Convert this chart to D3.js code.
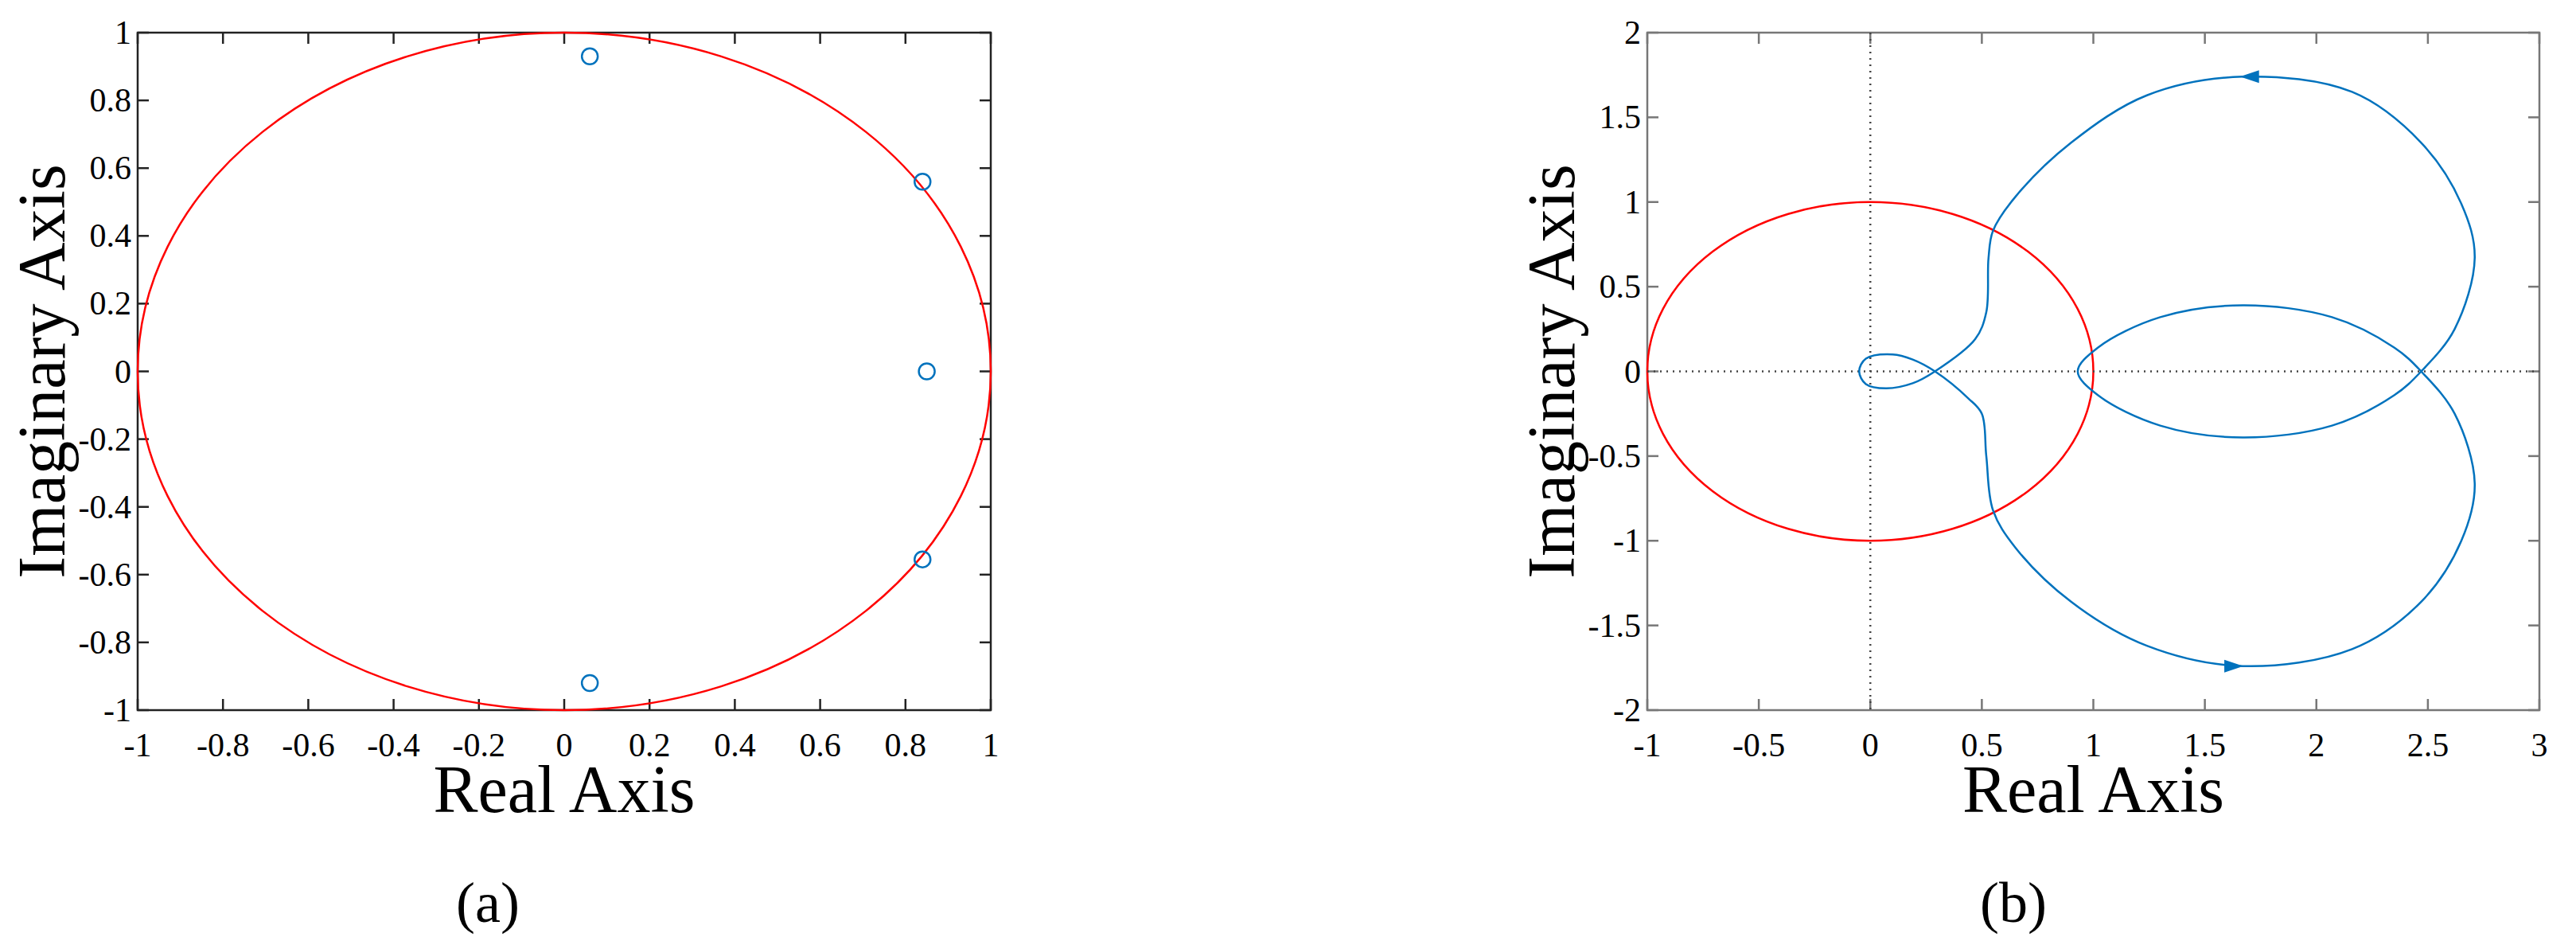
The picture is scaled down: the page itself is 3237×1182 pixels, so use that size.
<!DOCTYPE html>
<html>
<head>
<meta charset="utf-8">
<script src="https://cdn.jsdelivr.net/npm/d3@7"></script>
<style>
  body { margin: 0; background: #fff; }
  text { font-family: 'Liberation Serif', 'DejaVu Serif', serif; }
</style>
</head>
<body>
<svg width="3237" height="1182"></svg>
<script>
// panel (a): zeros inside the unit circle
var zerosRe = [0.06, 0.84, 0.85, 0.84, 0.06];
var zerosIm = [0.93, 0.56, 0.0, -0.555, -0.92];
var ticksA = [-1, -0.8, -0.6, -0.4, -0.2, 0, 0.2, 0.4, 0.6, 0.8, 1];

// panel (b): nyquist curve (closed)
var nyqRe = [0.93, 1.02, 1.30, 1.67, 2.07, 2.35, 2.47, 2.62, 2.71, 2.65, 2.47, 2.16, 1.67, 1.24, 0.90, 0.65, 0.55, 0.52, 0.50, 0.44, 0.29, 0.19, 0.10, -0.02, -0.05,
  -0.02, 0.07, 0.19, 0.29, 0.47, 0.52, 0.53, 0.55, 0.65, 0.90, 1.24, 1.67, 2.16, 2.47, 2.65, 2.71, 2.62, 2.47, 2.35, 2.07, 1.67, 1.30, 1.02];
var nyqIm = [0, 0.14, 0.32, 0.39, 0.32, 0.14, 0, -0.25, -0.66, -1.0, -1.36, -1.64, -1.74, -1.62, -1.36, -1.04, -0.82, -0.50, -0.25, -0.16, 0, 0.07, 0.10, 0.075, 0,
  -0.075, -0.10, -0.07, 0, 0.19, 0.35, 0.67, 0.83, 1.03, 1.35, 1.63, 1.74, 1.65, 1.35, 0.99, 0.67, 0.25, 0, -0.14, -0.32, -0.39, -0.32, -0.14];
var arrowRe = [1.70, 1.63];
var arrowIm = [1.74, -1.74];
var arrowDir = [-1, 1];
var ticksBx = [-1, -0.5, 0, 0.5, 1, 1.5, 2, 2.5, 3];
var ticksBy = [-2, -1.5, -1, -0.5, 0, 0.5, 1, 1.5, 2];

var svg = d3.select('svg');
var blue = '#0072bd';

function panel(o) {
  var x = d3.scaleLinear().domain(o.xd).range([o.left, o.right]);
  var y = d3.scaleLinear().domain(o.yd).range([o.bottom, o.top]);
  var g = svg.append('g');

  g.append('rect')
    .attr('x', o.left).attr('y', o.top)
    .attr('width', o.right - o.left).attr('height', o.bottom - o.top)
    .attr('fill', 'none').attr('stroke', o.axisColor).attr('stroke-width', 2.5);

  var tl = 14;
  o.xt.forEach(function(t) {
    g.append('line').attr('x1', x(t)).attr('x2', x(t)).attr('y1', o.bottom).attr('y2', o.bottom - tl).attr('stroke', o.axisColor).attr('stroke-width', 2.5);
    g.append('line').attr('x1', x(t)).attr('x2', x(t)).attr('y1', o.top).attr('y2', o.top + tl).attr('stroke', o.axisColor).attr('stroke-width', 2.5);
    g.append('text').attr('x', x(t)).attr('y', o.bottom + 58).attr('text-anchor', 'middle')
      .attr('font-size', 42).text(String(t));
  });
  o.yt.forEach(function(t) {
    g.append('line').attr('y1', y(t)).attr('y2', y(t)).attr('x1', o.left).attr('x2', o.left + tl).attr('stroke', o.axisColor).attr('stroke-width', 2.5);
    g.append('line').attr('y1', y(t)).attr('y2', y(t)).attr('x1', o.right).attr('x2', o.right - tl).attr('stroke', o.axisColor).attr('stroke-width', 2.5);
    g.append('text').attr('x', o.left - 8).attr('y', y(t) + 14).attr('text-anchor', 'end')
      .attr('font-size', 42).text(String(t));
  });

  g.append('text').attr('x', (o.left + o.right) / 2).attr('y', o.bottom + 128)
    .attr('text-anchor', 'middle').attr('font-size', 84).text('Real Axis');
  g.append('text').attr('transform', 'translate(' + (o.left - 92) + ',' + ((o.top + o.bottom) / 2) + ') rotate(-90)')
    .attr('text-anchor', 'middle').attr('font-size', 84).text('Imaginary Axis');
  g.append('text').attr('x', o.capX).attr('y', 1158)
    .attr('text-anchor', 'middle').attr('font-size', 72).text(o.caption);

  // unit circle
  g.append('ellipse')
    .attr('cx', x(0)).attr('cy', y(0))
    .attr('rx', x(1) - x(0)).attr('ry', y(0) - y(1))
    .attr('fill', 'none').attr('stroke', '#ff0000').attr('stroke-width', 2.5);
  return {g: g, x: x, y: y};
}

// (a)
var a = panel({left: 173, right: 1245, top: 41, bottom: 892, xd: [-1, 1], yd: [-1, 1],
  xt: ticksA, yt: ticksA, axisColor: '#222', caption: '(a)', capX: 613});
a.g.selectAll('circle.zero').data(zerosRe).enter().append('circle')
  .attr('cx', function(d) { return a.x(d); })
  .attr('cy', function(d, i) { return a.y(zerosIm[i]); })
  .attr('r', 10).attr('fill', 'none').attr('stroke', blue).attr('stroke-width', 2.5);

// (b)
var b = panel({left: 2070, right: 3191, top: 41, bottom: 892, xd: [-1, 3], yd: [-2, 2],
  xt: ticksBx, yt: ticksBy, axisColor: '#777', caption: '(b)', capX: 2530});
b.g.append('line').attr('x1', b.x(0)).attr('x2', b.x(0)).attr('y1', b.y(2)).attr('y2', b.y(-2))
  .attr('stroke', '#444').attr('stroke-width', 2.5).attr('stroke-dasharray', '2,6');
b.g.append('line').attr('x1', b.x(-1)).attr('x2', b.x(3)).attr('y1', b.y(0)).attr('y2', b.y(0))
  .attr('stroke', '#444').attr('stroke-width', 2.5).attr('stroke-dasharray', '2,6');

var line = d3.line()
  .curve(d3.curveCatmullRomClosed.alpha(0.5))
  .x(function(d) { return b.x(d); })
  .y(function(d, i) { return b.y(nyqIm[i]); });
b.g.append('path').datum(nyqRe).attr('d', line)
  .attr('fill', 'none').attr('stroke', blue).attr('stroke-width', 2.5);

arrowRe.forEach(function(r, i) {
  var px = b.x(r), py = b.y(arrowIm[i]), s = arrowDir[i];
  b.g.append('path')
    .attr('d', 'M' + (px + s * 12) + ',' + py + 'L' + (px - s * 12) + ',' + (py - 8) + 'L' + (px - s * 12) + ',' + (py + 8) + 'Z')
    .attr('fill', blue);
});
</script>
</body>
</html>
